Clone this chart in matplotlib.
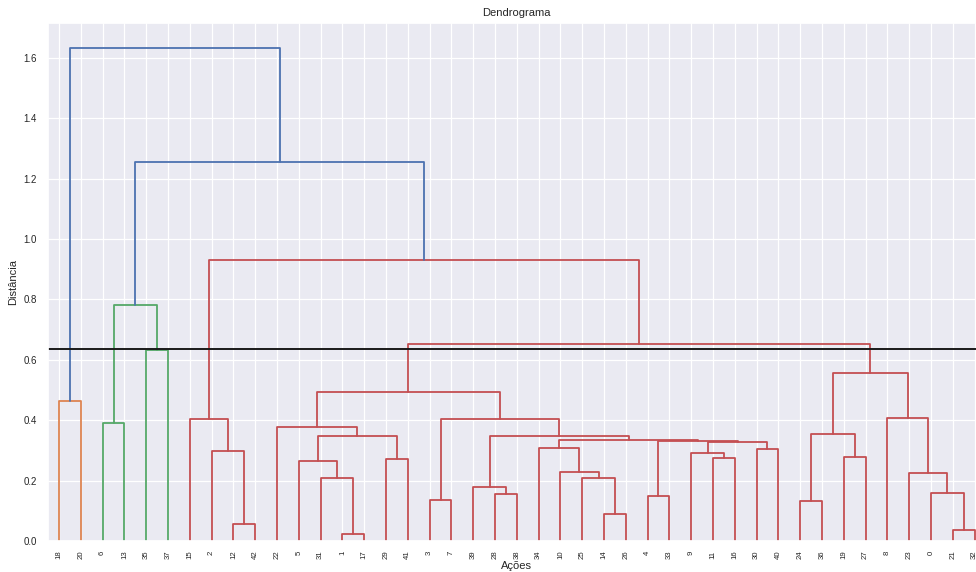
import matplotlib
matplotlib.use("Agg")
import matplotlib.pyplot as plt
import seaborn as sns

# === Data: linkage ===
# leaves are the stock ids 0..42; merge k creates cluster id 43 + k
N_LEAVES = 43
merge_left = [1, 21, 12, 14, 24, 3, 4, 28, 0, 39,
              25, 31, 23, 10, 5, 29, 11, 19, 9, 2,
              30, 34, 61, 49, 64, 52, 57, 47, 22, 6,
              15, 48, 8, 18, 71, 70, 35, 77, 72, 73,
              81, 76]
merge_right = [17, 32, 42, 26, 36, 7, 33, 38, 44, 50,
               46, 43, 51, 53, 54, 41, 16, 27, 59, 45,
               40, 56, 63, 65, 66, 67, 58, 60, 69, 13,
               62, 68, 55, 20, 74, 75, 37, 78, 79, 80,
               82, 83]
merge_height = [0.022, 0.037, 0.056, 0.089, 0.131, 0.137, 0.148, 0.155, 0.158, 0.179,
                0.208, 0.208, 0.225, 0.228, 0.266, 0.273, 0.276, 0.277, 0.290, 0.299,
                0.306, 0.309, 0.329, 0.332, 0.334, 0.349, 0.349, 0.355, 0.378, 0.390,
                0.404, 0.404, 0.408, 0.465, 0.494, 0.557, 0.633, 0.651, 0.781, 0.931,
                1.255, 1.634]
cut_height = 0.636

# === Style ===
sns.set_theme(style="darkgrid")
plt.rcParams['font.family'] = ['Liberation Sans', 'DejaVu Sans']
palette = sns.color_palette("deep")
above_color = palette[0]
cluster_colors = [palette[1], palette[2], palette[3], palette[4], palette[5]]
color_threshold = 0.7 * max(merge_height)

# === Layout of the tree (leaf positions like scipy: 5, 15, 25, ...) ===
root = N_LEAVES + len(merge_height) - 1
leaf_order = []
def collect(node):
    if node < N_LEAVES:
        leaf_order.append(node)
    else:
        k = node - N_LEAVES
        collect(merge_left[k])
        collect(merge_right[k])
collect(root)

xpos = {leaf: 5 + 10 * i for i, leaf in enumerate(leaf_order)}
def height(node):
    return 0.0 if node < N_LEAVES else merge_height[node - N_LEAVES]
def place(node):
    if node < N_LEAVES:
        return xpos[node]
    k = node - N_LEAVES
    x = (place(merge_left[k]) + place(merge_right[k])) / 2
    xpos[node] = x
    return x
place(root)

# color of each link: one colour per cluster below the threshold
link_color = {}
color_idx = [0]
def paint(node, color):
    if node < N_LEAVES:
        return
    k = node - N_LEAVES
    if color is None and merge_height[k] < color_threshold:
        color = cluster_colors[color_idx[0] % len(cluster_colors)]
        color_idx[0] += 1
    link_color[node] = color if color is not None else above_color
    paint(merge_left[k], color)
    paint(merge_right[k], color)
paint(root, None)

# === Plotting ===
fig = plt.figure(figsize=(9.76, 5.72), dpi=100)
ax = fig.add_axes([48.1 / 976, 31 / 572, 937.4 / 976, 518 / 572])

for k in range(len(merge_height)):
    node = N_LEAVES + k
    l, r = merge_left[k], merge_right[k]
    h = merge_height[k]
    ax.plot([xpos[l], xpos[l], xpos[r], xpos[r]], [height(l), h, h, height(r)],
            color=link_color[node], lw=1.3)

ax.axhline(cut_height, color='k', lw=1.4)

ax.set_xlim(0, 10 * N_LEAVES)
ax.set_ylim(0, max(merge_height) * 1.05)
ax.set_xticks([5 + 10 * i for i in range(N_LEAVES)])
ax.set_xticklabels([str(v) for v in leaf_order], rotation=90, fontsize=5.6)
ax.set_yticks([0.0, 0.2, 0.4, 0.6, 0.8, 1.0, 1.2, 1.4, 1.6])
ax.tick_params(axis='y', labelsize=7, pad=8, length=0)
ax.tick_params(axis='x', pad=7, length=0)
ax.grid(True, color='white', lw=0.9)

ax.set_title("Dendrograma", fontsize=8, pad=5)
ax.set_xlabel("Ações", fontsize=8, labelpad=1)
ax.set_ylabel("Distância", fontsize=8, labelpad=4)

fig.savefig("out.png", dpi=100)
